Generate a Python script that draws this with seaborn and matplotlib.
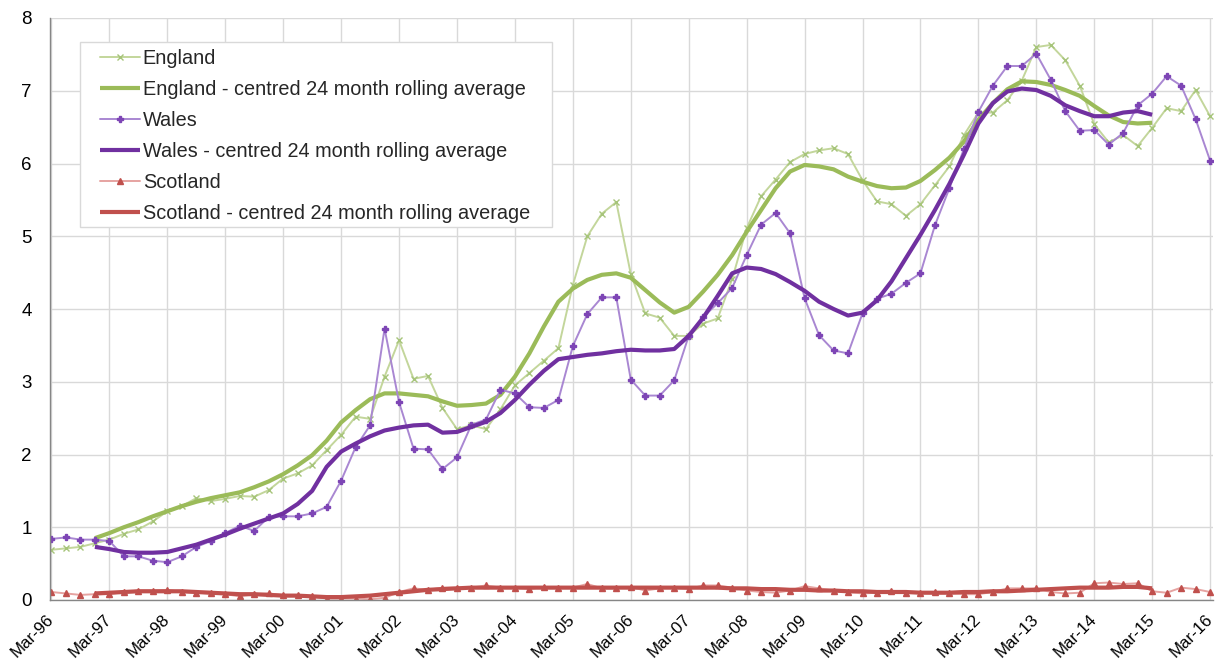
import numpy as np
import pandas as pd
import matplotlib
matplotlib.use("Agg")
import matplotlib.pyplot as plt
from matplotlib.patches import Rectangle
import seaborn as sns

# quarterly observations, Mar-96 .. Mar-16
quarters = pd.period_range("1996Q1", "2016Q1", freq="Q")
year_labels = ["Mar-96", "Mar-97", "Mar-98", "Mar-99", "Mar-00", "Mar-01", "Mar-02",
               "Mar-03", "Mar-04", "Mar-05", "Mar-06", "Mar-07", "Mar-08", "Mar-09",
               "Mar-10", "Mar-11", "Mar-12", "Mar-13", "Mar-14", "Mar-15", "Mar-16"]

england = [0.69, 0.71, 0.73, 0.78, 0.83, 0.91, 0.97, 1.08, 1.22, 1.29,
           1.40, 1.36, 1.39, 1.43, 1.42, 1.51, 1.67, 1.74, 1.85, 2.06,
           2.27, 2.52, 2.49, 3.07, 3.57, 3.04, 3.08, 2.64, 2.35, 2.40,
           2.35, 2.62, 2.95, 3.12, 3.29, 3.46, 4.33, 5.00, 5.31, 5.47,
           4.48, 3.94, 3.88, 3.63, 3.63, 3.80, 3.87, 4.41, 5.11, 5.55,
           5.78, 6.02, 6.13, 6.18, 6.21, 6.13, 5.77, 5.48, 5.44, 5.28,
           5.44, 5.70, 5.96, 6.39, 6.70, 6.70, 6.87, 7.14, 7.60, 7.63,
           7.42, 7.07, 6.54, 6.29, 6.39, 6.24, 6.49, 6.76, 6.72, 7.01,
           6.65]
wales = [0.84, 0.86, 0.83, 0.83, 0.81, 0.60, 0.60, 0.54, 0.52, 0.60,
         0.73, 0.81, 0.92, 1.02, 0.95, 1.14, 1.15, 1.15, 1.19, 1.28,
         1.64, 2.10, 2.40, 3.73, 2.72, 2.08, 2.07, 1.80, 1.96, 2.41,
         2.48, 2.89, 2.84, 2.65, 2.64, 2.75, 3.49, 3.93, 4.16, 4.16,
         3.03, 2.81, 2.81, 3.02, 3.63, 3.89, 4.08, 4.29, 4.74, 5.16,
         5.32, 5.04, 4.15, 3.64, 3.43, 3.39, 3.94, 4.14, 4.21, 4.36,
         4.49, 5.15, 5.66, 6.20, 6.71, 7.07, 7.34, 7.34, 7.51, 7.15,
         6.72, 6.45, 6.46, 6.26, 6.42, 6.80, 6.96, 7.20, 7.07, 6.61,
         6.04]
scotland = [0.11, 0.09, 0.07, 0.08, 0.08, 0.11, 0.13, 0.13, 0.14, 0.11,
            0.10, 0.09, 0.08, 0.05, 0.08, 0.09, 0.07, 0.07, 0.05, 0.02,
            0.02, 0.02, 0.01, 0.03, 0.11, 0.16, 0.14, 0.17, 0.17, 0.17,
            0.20, 0.17, 0.17, 0.15, 0.18, 0.17, 0.17, 0.22, 0.16, 0.16,
            0.18, 0.13, 0.16, 0.17, 0.15, 0.20, 0.20, 0.17, 0.13, 0.11,
            0.10, 0.13, 0.19, 0.16, 0.13, 0.11, 0.09, 0.10, 0.13, 0.10,
            0.10, 0.11, 0.09, 0.08, 0.08, 0.11, 0.16, 0.16, 0.16, 0.11,
            0.09, 0.10, 0.23, 0.24, 0.22, 0.23, 0.12, 0.10, 0.17, 0.15,
            0.11]

# centred 24 month rolling averages, Dec-96 .. Mar-15
avg_quarters = pd.period_range("1996Q4", "2015Q1", freq="Q")
england_avg = [0.85, 0.92, 1.00, 1.07, 1.15, 1.22, 1.29, 1.35, 1.40, 1.44,
               1.48, 1.55, 1.63, 1.73, 1.85, 1.99, 2.19, 2.44, 2.61, 2.76,
               2.84, 2.84, 2.82, 2.80, 2.73, 2.67, 2.68, 2.70, 2.82, 3.07,
               3.39, 3.76, 4.10, 4.28, 4.40, 4.47, 4.49, 4.43, 4.26, 4.09,
               3.95, 4.03, 4.24, 4.47, 4.74, 5.06, 5.36, 5.66, 5.89, 5.98,
               5.96, 5.92, 5.82, 5.75, 5.69, 5.66, 5.67, 5.76, 5.91, 6.08,
               6.30, 6.60, 6.83, 7.02, 7.13, 7.12, 7.08, 7.01, 6.93, 6.79,
               6.66, 6.57, 6.55, 6.56]
wales_avg = [0.73, 0.70, 0.66, 0.65, 0.65, 0.66, 0.71, 0.76, 0.83, 0.90,
             0.98, 1.05, 1.12, 1.19, 1.32, 1.50, 1.83, 2.04, 2.15, 2.25,
             2.33, 2.37, 2.40, 2.41, 2.30, 2.31, 2.38, 2.45, 2.57, 2.75,
             2.96, 3.15, 3.31, 3.34, 3.37, 3.39, 3.42, 3.44, 3.43, 3.43,
             3.45, 3.63, 3.88, 4.18, 4.49, 4.57, 4.55, 4.48, 4.37, 4.25,
             4.10, 4.00, 3.91, 3.95, 4.12, 4.38, 4.70, 5.02, 5.36, 5.72,
             6.12, 6.55, 6.83, 6.99, 7.03, 7.01, 6.93, 6.80, 6.72, 6.65,
             6.65, 6.70, 6.72, 6.67]
scotland_avg = [0.09, 0.10, 0.11, 0.12, 0.12, 0.12, 0.12, 0.11, 0.10, 0.09,
                0.08, 0.08, 0.07, 0.06, 0.06, 0.05, 0.04, 0.04, 0.05, 0.06,
                0.08, 0.10, 0.12, 0.14, 0.15, 0.16, 0.17, 0.17, 0.17, 0.17,
                0.17, 0.17, 0.17, 0.17, 0.17, 0.17, 0.17, 0.17, 0.17, 0.17,
                0.17, 0.17, 0.17, 0.17, 0.16, 0.16, 0.15, 0.15, 0.14, 0.14,
                0.13, 0.13, 0.12, 0.12, 0.11, 0.11, 0.11, 0.10, 0.10, 0.10,
                0.11, 0.11, 0.12, 0.12, 0.13, 0.14, 0.15, 0.16, 0.17, 0.17,
                0.17, 0.18, 0.18, 0.16]

start = quarters[0]
raw = pd.DataFrame({"q": [(p - start).n for p in quarters],
                    "England": england, "Wales": wales, "Scotland": scotland})
avg = pd.DataFrame({"q": [(p - start).n for p in avg_quarters],
                    "England": england_avg, "Wales": wales_avg, "Scotland": scotland_avg})

sns.set_style("white")
plt.rcParams["font.family"] = ["Liberation Sans", "DejaVu Sans"]

W, H = 1217, 661
fig = plt.figure(figsize=(W / 100, H / 100), dpi=100)
ax = fig.add_axes([50 / W, 61 / H, 1163 / W, 582 / H])

styles = {
    "England": dict(light="#c3d69b", mark="#a6c47a", marker="x", dark="#9bbb59"),
    "Wales": dict(light="#a987d2", mark="#7d45b5", marker="P", dark="#7030a0"),
    "Scotland": dict(light="#e6a3a1", mark="#c0504d", marker="^", dark="#c0504d"),
}

for name, st in styles.items():
    sns.lineplot(data=raw, x="q", y=name, ax=ax, color=st["light"], linewidth=1.4,
                 marker=st["marker"], markersize=4.5, markeredgecolor=st["mark"],
                 markerfacecolor=st["mark"], markeredgewidth=1.0, label=name)
    sns.lineplot(data=avg, x="q", y=name, ax=ax, color=st["dark"], linewidth=3.0,
                 solid_joinstyle="round", solid_capstyle="butt",
                 label=f"{name} - centred 24 month rolling average")

ax.set_xlim(-0.1, 80.2)
ax.set_ylim(0, 8)
ax.set_xticks(np.arange(0, 81, 4))
ax.set_xticklabels(year_labels, rotation=45, ha="right", va="center",
                   rotation_mode="anchor")
ax.set_yticks(range(0, 9))
ax.set_xlabel("")
ax.set_ylabel("")

ax.grid(True, color="#d9d9d9", linewidth=1.0)
ax.set_axisbelow(True)
for side in ["top", "right"]:
    ax.spines[side].set_visible(False)
for side in ["left", "bottom"]:
    ax.spines[side].set_color("#868686")
    ax.spines[side].set_linewidth(1.0)
ax.tick_params(axis="both", which="both", direction="out", length=5, width=1,
               color="#868686", labelcolor="black")
ax.tick_params(axis="x", pad=7, labelsize=12.2)
ax.tick_params(axis="y", pad=8, labelsize=13.5)

# legend frame drawn as its own box (wider right margin, like the original)
frame = Rectangle((30 / 1163, 1 - 209 / 582), 472 / 1163, 185 / 582,
                  transform=ax.transAxes, facecolor="white", edgecolor="#d9d9d9",
                  linewidth=1.0, zorder=4.5)
ax.add_patch(frame)
leg = ax.legend(loc="upper left", bbox_to_anchor=(50 / 1163, 1 - 31 / 582),
                borderaxespad=0, borderpad=0, fontsize=14.3, frameon=False,
                handlelength=2.0, handletextpad=0.15, labelspacing=0.6)
leg.set_zorder(5)

fig.savefig("out.png", dpi=100)
